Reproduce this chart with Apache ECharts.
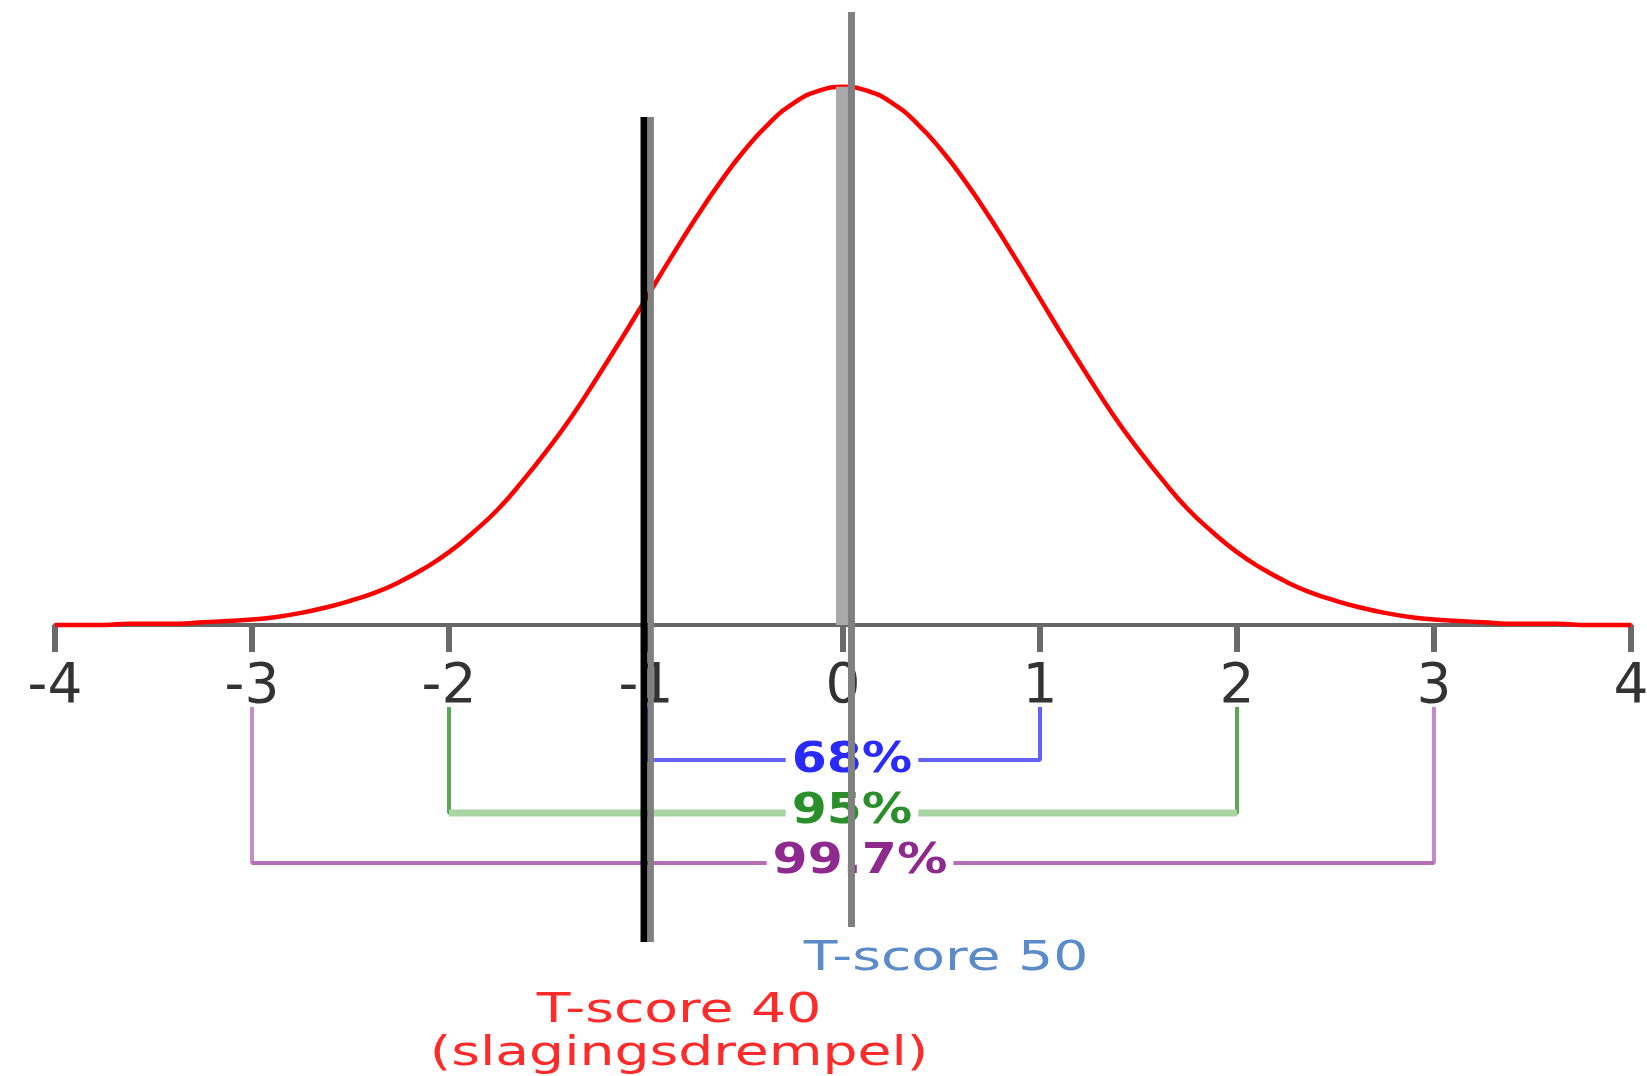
<!DOCTYPE html>
<html>
<head>
<meta charset="utf-8">
<title>T-score</title>
<script src="https://cdn.jsdelivr.net/npm/echarts@6/dist/echarts.min.js"></script>
<style>
  html, body { margin: 0; padding: 0; background: #fff; }
  #chart { width: 1647px; height: 1076px; }
</style>
</head>
<body>
<div id="chart"></div>
<script>
// z-scores on the x axis
var xTicks = [-4, -3, -2, -1, 0, 1, 2, 3, 4];

// red bell curve, every 0.125 (left half, 0 included)
var halfX = [-4, -3.875, -3.75, -3.625, -3.5, -3.375, -3.25, -3.125, -3, -2.875, -2.75, -2.625, -2.5, -2.375, -2.25, -2.125,
  -2, -1.875, -1.75, -1.625, -1.5, -1.375, -1.25, -1.125, -1, -0.875, -0.75, -0.625, -0.5, -0.375, -0.25, -0.125, 0];
var halfY = [0.000, 0.000, 0.000, 0.001, 0.001, 0.001, 0.002, 0.003, 0.004, 0.006, 0.009, 0.013, 0.018, 0.024, 0.032, 0.042,
  0.054, 0.069, 0.086, 0.107, 0.130, 0.155, 0.183, 0.212, 0.242, 0.272, 0.301, 0.328, 0.352, 0.372, 0.387, 0.396, 0.399];
// right half as read (mirror of the left)
var rightX = [0.125, 0.25, 0.375, 0.5, 0.625, 0.75, 0.875, 1, 1.125, 1.25, 1.375, 1.5, 1.625, 1.75, 1.875, 2,
  2.125, 2.25, 2.375, 2.5, 2.625, 2.75, 2.875, 3, 3.125, 3.25, 3.375, 3.5, 3.625, 3.75, 3.875, 4];
var rightY = [0.396, 0.387, 0.372, 0.352, 0.328, 0.301, 0.272, 0.242, 0.212, 0.183, 0.155, 0.130, 0.107, 0.086, 0.069, 0.054,
  0.042, 0.032, 0.024, 0.018, 0.013, 0.009, 0.006, 0.004, 0.003, 0.002, 0.001, 0.001, 0.001, 0.000, 0.000, 0.000];

// grey line = T-score 50, black line = T-score 40
var meanLineX = 0.043;
var meanLineY = [-0.224, 0.4545];
var meanBandX = 0;
var meanBandY = [0, 0.399];
var cutLineX = -1.01;
var cutShadowX = -0.975;
var cutLineY = [-0.235, 0.3767];

// 68 / 95 / 99.7 brackets under the axis
var bracketText = ["68%", "95%", "99.7%"];
var bracketLow = [-1, -2, -3];
var bracketHigh = [1, 2, 3];
var bracketLevel = [-0.1001, -0.1394, -0.1765];
var bracketTop = -0.0608;

(function () {
  var myChart = echarts.init(document.getElementById("chart"));

  var curveData = [];
  halfX.forEach(function (x, i) {
    curveData.push([x, halfY[i]]);
  });
  rightX.forEach(function (x, i) {
    curveData.push([x, rightY[i]]);
  });

  function vline(x, ys) {
    return [[x, ys[0]], [x, ys[1]]];
  }

  var sideColor = ["#6262ff", "#58a858", "#c78cc7"];
  var barColor = ["#6262ff", "#a9d5a3", "#b66eb6"];
  var barWidth = [4, 7, 4];
  var textColor = ["#2a2aff", "#2a8f2a", "#8e2a8e"];
  var textPos = [[852, 761], [852, 812], [860, 862]];

  // every line may go below the axis, so no clipping to the grid
  function seg(data, color, width, z) {
    return {
      type: "line",
      silent: true,
      symbol: "none",
      clip: false,
      z: z,
      data: data,
      lineStyle: { color: color, width: width },
    };
  }

  var series = [];
  // brackets
  bracketText.forEach(function (t, i) {
    series.push(seg([
      [bracketLow[i], bracketTop],
      [bracketLow[i], bracketLevel[i]],
      [bracketHigh[i], bracketLevel[i]],
      [bracketHigh[i], bracketTop],
    ], sideColor[i], 4, 2));
    series.push(seg([
      [bracketLow[i], bracketLevel[i]],
      [bracketHigh[i], bracketLevel[i]],
    ], barColor[i], barWidth[i], 2));
  });

  // the curve
  var curve = seg(curveData, "#ff0000", 4.5, 3);
  curve.smooth = true;
  series.push(curve);

  // grey band and line at the mean
  series.push(seg(vline(meanBandX, meanBandY), "#aaaaaa", 14, 6));
  series.push(seg(vline(meanLineX, meanLineY), "#808080", 7, 6));

  // black threshold line with its grey edge
  series.push(seg(vline(cutShadowX, cutLineY), "#808080", 6, 7));
  series.push(seg(vline(cutLineX, cutLineY), "#000000", 7, 7));

  // texts (stretched sideways like the original)
  var graphics = bracketText.map(function (t, i) {
    return {
      type: "text",
      x: textPos[i][0],
      y: textPos[i][1],
      scaleX: 1.2,
      z: 5,
      style: {
        text: t,
        font: 'bold 42px "DejaVu Sans"',
        fill: textColor[i],
        align: "center",
        verticalAlign: "middle",
        textAlign: "center",
        textVerticalAlign: "middle",
        backgroundColor: "#ffffff",
        padding: [0, 5],
      },
    };
  });
  function note(text, x, y, color) {
    return {
      type: "text",
      x: x,
      y: y,
      scaleX: 1.38,
      z: 5,
      style: {
        text: text,
        font: '40px "DejaVu Sans"',
        fill: color,
        align: "center",
        verticalAlign: "middle",
        textAlign: "center",
        textVerticalAlign: "middle",
      },
    };
  }
  graphics.push(note("T-score 50", 946, 960, "#5b8bc8"));
  graphics.push(note("T-score 40", 679, 1012, "#ff2a2a"));
  graphics.push(note("(slagingsdrempel)", 679, 1055, "#ff2a2a"));

  var option = {
    animation: false,
    backgroundColor: "#ffffff",
    // x axis sits at the bottom of the grid, at y = 625px
    grid: { left: 55, right: 16, top: 0, bottom: 451, containLabel: false, outerBoundsMode: "none" },
    xAxis: {
      type: "value",
      min: xTicks[0],
      max: xTicks[xTicks.length - 1],
      interval: 1,
      splitLine: { show: false },
      axisLine: { onZero: false, lineStyle: { color: "#666666", width: 4 } },
      axisTick: { show: true, length: 27, lineStyle: { color: "#6a6a6a", width: 6 } },
      axisLabel: {
        showMinLabel: true,
        showMaxLabel: true,
        margin: 35,
        color: "#333333",
        fontSize: 55,
        fontFamily: "DejaVu Sans",
      },
    },
    yAxis: {
      type: "value",
      show: false,
      min: 0,
      max: 0.4634,
      splitLine: { show: false },
    },
    series: series,
    graphic: graphics,
  };

  myChart.setOption(option);
  window.addEventListener("resize", function () {
    myChart.resize();
  });
})();
</script>
</body>
</html>
